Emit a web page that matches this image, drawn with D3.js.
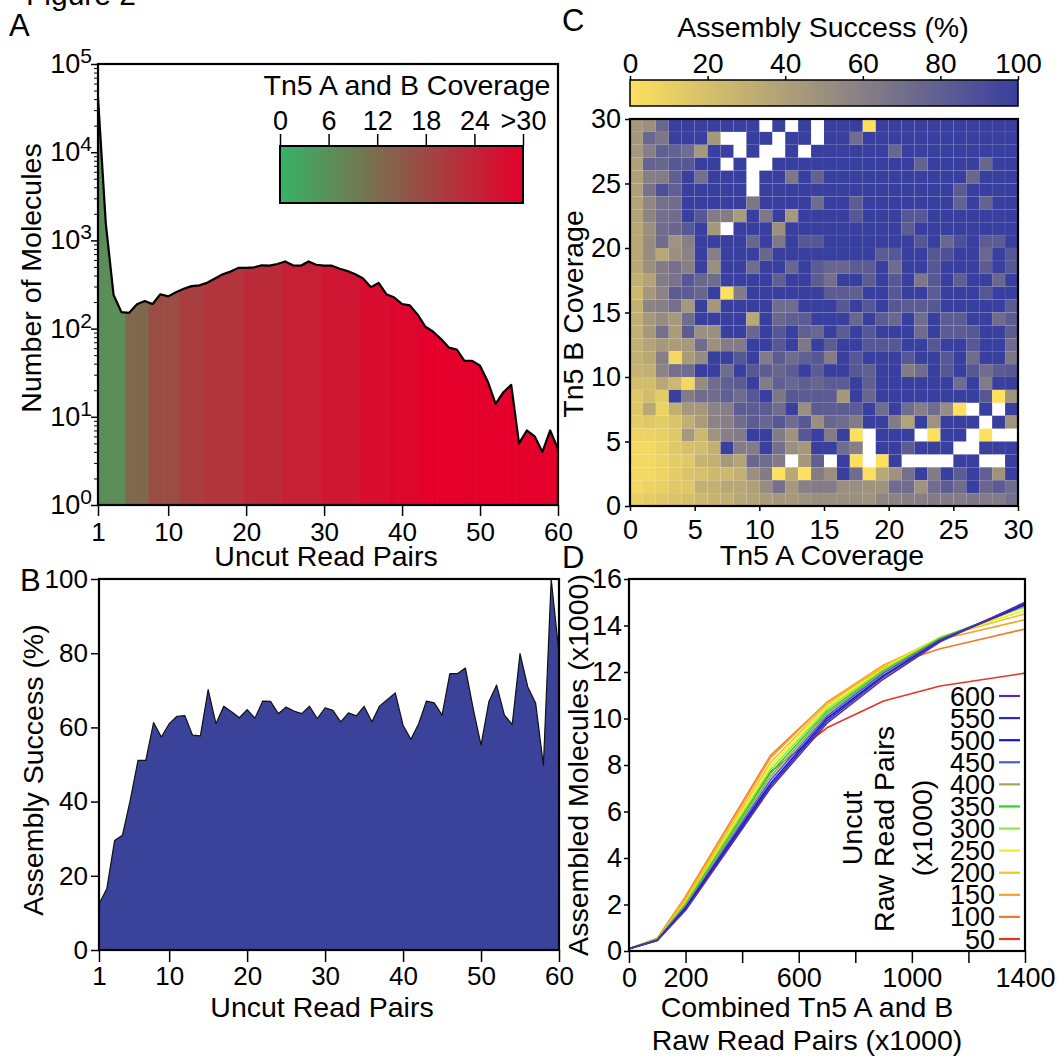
<!DOCTYPE html>
<html>
<head>
<meta charset="utf-8">
<script src="https://cdn.jsdelivr.net/npm/d3@7"></script>
<style>
  body { margin: 0; background: #fff; }
  svg { display: block; font-family: "Liberation Sans", Arial, Helvetica, sans-serif; }
</style>
</head>
<body>
<svg id="fig" width="1060" height="1057"></svg>
<script>
// ---------- data ----------
const uncutPairs = d3.range(1, 61);

// A: number of molecules per uncut read pair count
const moleculeCounts = [42000, 1550, 240, 154, 151, 189, 205, 190, 245, 232,
  258, 283, 303, 309, 331, 370, 414, 443, 488, 488,
  495, 522, 517, 540, 577, 522, 517, 577, 530, 517,
  517, 477, 450, 414, 370, 295, 330, 245, 225, 190,
  183, 144, 105, 92, 76, 61, 58, 43, 43, 38,
  25, 14, 19, 23, 5, 7, 6, 4, 7, 4.3];

// A: mean Tn5 A+B coverage for each uncut count (fill colour)
const coverageA = [6.4, 6.4, 6.4, 6.4, 12.6, 12.6, 12.6, 17.2, 17.2, 17.2,
  17.2, 19.7, 19.7, 19.7, 21.3, 21.3, 21.3, 21.3, 21.3, 23,
  23, 23, 23, 23, 24.6, 24.6, 24.6, 24.6, 24.6, 26.4,
  26.4, 26.4, 26.4, 26.4, 27.9, 27.9, 27.9, 27.9, 29, 29,
  29, 29, 30, 30, 30, 30, 30, 30, 30, 30,
  30, 30, 30, 30, 30, 30, 30, 30, 30, 30];
const coverageTicks = [0, 6, 12, 18, 24, 30];
const coverageTickLabels = ["0", "6", "12", "18", "24", ">30"];

// B: assembly success (%) per uncut count
const successRate = [12.4, 16.5, 29.5, 30.9, 40.3, 51.1, 51.1, 61.3, 57.4, 61,
  63, 63.2, 57.9, 57.7, 70.2, 61, 65.7, 64.2, 62.6, 64.8,
  62.5, 67.1, 67, 63.7, 65.5, 64.4, 63.7, 65.7, 62.4, 65.3,
  64.6, 61.5, 63.9, 63.1, 65.7, 61.5, 65.8, 67.5, 69.3, 60.6,
  56.8, 61, 67.1, 66.6, 63.3, 74.5, 74.5, 76, 65, 55.2,
  66.9, 71.4, 63.3, 60.8, 79.9, 70.9, 66.6, 49.8, 100, 80];

// C: assembly success (%) by Tn5 A coverage (columns 0..29) and Tn5 B coverage
// rows listed from B = 29 (top) down to B = 0 (bottom); null = no molecules
const successGrid = [
  [45,50,75,100,100,100,100,100,100,100,null,100,null,100,null, 100,100,100,0,100,100,100,100,100,100,100,100,100,100,100],
  [45,75,65,100,100,100,45,null,null,100,100,null,100,100,null, 100,100,72,100,100,100,100,100,100,100,100,100,100,100,100],
  [45,60,80,78,72,45,100,100,null,100,null,null,100,null,100, 100,100,100,100,100,75,100,100,100,100,100,100,100,100,100],
  [40,78,75,85,85,100,100,null,100,null,null,100,100,100,100, 100,100,100,100,100,100,100,78,100,100,100,100,75,100,100],
  [40,60,62,80,100,70,100,100,100,null,100,100,65,100,78, 100,100,100,100,100,100,100,100,100,100,100,75,100,100,100],
  [40,68,90,80,100,100,100,100,100,null,100,100,100,100,100, 100,100,100,100,100,100,100,100,100,100,82,100,100,100,100],
  [38,55,70,72,100,100,100,100,100,65,100,100,100,100,72, 100,100,82,100,100,100,100,100,100,100,78,100,78,100,100],
  [38,58,70,72,100,85,62,62,42,100,65,100,45,100,100, 100,100,85,100,100,100,85,85,100,100,100,100,100,100,100],
  [35,50,72,75,85,100,45,null,100,100,100,50,100,100,100, 100,100,100,100,100,100,82,100,100,100,100,100,100,100,100],
  [35,52,72,48,60,100,100,100,100,75,100,65,100,85,85, 100,100,100,100,100,100,100,85,100,75,90,100,82,82,100],
  [35,52,35,50,58,100,60,100,100,100,75,100,100,100,100, 100,100,100,100,82,85,100,100,85,90,100,100,75,100,85],
  [35,50,62,70,60,100,50,100,100,72,100,100,75,100,82, 75,75,82,82,100,72,100,100,85,100,100,100,82,100,85],
  [30,38,62,68,85,75,72,100,100,100,100,80,100,100,82, 70,100,100,82,100,85,100,65,85,100,80,100,100,75,100],
  [25,45,58,82,82,75,100,0,62,100,100,100,100,100,100, 82,82,80,100,100,85,100,100,82,100,100,100,85,100,100],
  [30,58,60,70,45,100,45,100,100,100,100,72,72,100,100, 100,85,100,85,100,85,82,82,85,100,100,100,100,100,82],
  [30,45,52,45,72,100,100,100,100,35,100,75,80,82,100, 100,100,75,100,82,75,100,72,100,82,82,100,100,72,82],
  [30,45,70,42,82,50,50,100,100,75,100,85,100,80,75, 100,82,100,85,100,100,100,72,100,82,82,85,100,100,82],
  [30,38,45,42,45,72,50,62,62,100,100,85,100,65,100, 82,100,100,85,85,85,100,100,85,100,100,85,100,100,72],
  [30,35,60,5,42,52,100,100,85,100,62,82,72,80,85, 62,100,85,100,100,100,85,100,100,85,100,72,100,100,65],
  [28,30,58,70,72,100,100,72,100,85,82,75,82,100,82, 100,100,85,80,100,100,62,72,100,85,100,85,72,82,85],
  [22,22,35,25,5,52,72,80,82,100,62,80,75,80,75, 82,82,100,80,100,100,100,100,100,100,72,100,62,100,100],
  [15,22,12,100,62,72,72,80,72,85,100,65,85,82,82, 82,45,100,75,100,100,100,100,100,100,100,100,85,0,48],
  [15,35,8,30,45,45,58,60,82,82,82,72,100,50,82, 82,82,82,100,72,100,72,60,72,52,0,null,100,null,100],
  [12,15,12,18,30,42,58,60,72,82,75,85,72,85,50, 75,72,62,100,100,62,38,100,48,100,100,100,null,100,48],
  [8,8,10,15,45,25,48,60,62,100,100,62,48,85,100, 62,100,0,null,100,100,100,null,0,100,100,null,0,null,null],
  [5,5,8,15,20,22,30,100,62,62,100,70,50,45,100, 100,72,60,null,100,100,82,100,100,100,null,null,100,100,100],
  [5,5,8,12,15,28,30,45,38,75,72,62,null,45,80, null,100,0,null,0,100,null,null,null,null,100,100,null,null,100],
  [5,5,8,12,18,20,25,25,30,50,62,0,35,0,62, 50,100,72,0,35,48,70,100,62,100,82,100,80,48,100],
  [5,8,10,15,15,30,30,35,35,40,52,70,45,60,62, 62,50,50,48,48,72,72,48,72,82,72,100,75,82,72],
  [10,12,15,18,20,25,28,30,35,38,42,45,45,48,50, 50,50,50,48,55,58,60,60,62,62,62,65,62,62,70]
];
const successTicks = [0, 20, 40, 60, 80, 100];

// D: assembled molecules (x1000) vs combined raw read pairs, per uncut read pair depth
const rawPairs = [0, 100, 200, 500, 700, 900, 1100, 1400];
const uncutDepths = [600, 550, 500, 450, 400, 350, 300, 250, 200, 150, 100, 50];
const depthColors = ["#5c2d9e", "#2e2eae", "#1414ea", "#4c5cc8", "#a8a060", "#22d822",
  "#8ee83a", "#f0ee20", "#f2c420", "#f5a228", "#f57a22", "#e83424"];
const assembled = [
  [0.1, 0.45, 1.75, 7.0, 9.8, 11.7, 13.3, 15.0],
  [0.1, 0.45, 1.8, 7.1, 9.9, 11.8, 13.35, 14.95],
  [0.1, 0.46, 1.85, 7.2, 10.0, 11.85, 13.35, 14.9],
  [0.1, 0.47, 1.9, 7.35, 10.1, 11.95, 13.4, 14.9],
  [0.1, 0.48, 1.95, 7.5, 10.2, 12.0, 13.4, 14.85],
  [0.1, 0.5, 2.0, 7.65, 10.3, 12.05, 13.45, 14.85],
  [0.1, 0.5, 2.05, 7.8, 10.4, 12.1, 13.45, 14.8],
  [0.1, 0.5, 2.1, 7.95, 10.5, 12.15, 13.5, 14.65],
  [0.1, 0.52, 2.2, 8.1, 10.6, 12.25, 13.5, 14.5],
  [0.1, 0.53, 2.3, 8.3, 10.7, 12.3, 13.4, 14.25],
  [0.1, 0.55, 2.35, 8.4, 10.7, 12.2, 13.0, 13.85],
  [0.1, 0.5, 2.2, 7.7, 9.6, 10.75, 11.4, 11.95]
];

// ---------- helpers ----------
const FONT = 26;     // tick labels
const TITLE = 28.5;  // axis titles
const svg = d3.select("#fig");
const defs = svg.append("defs");

function styleAxis(g) {
  g.attr("font-family", null).attr("font-size", FONT);
  g.select(".domain").remove();
  g.selectAll(".tick line").attr("stroke", "#000").attr("stroke-width", 1.5);
  g.selectAll(".tick text").attr("fill", "#000");
}

function text(x, y, str, anchor = "middle", size = TITLE, rotate = 0) {
  return svg.append("text")
    .attr("transform", `translate(${x},${y})` + (rotate ? ` rotate(${rotate})` : ""))
    .attr("text-anchor", anchor)
    .attr("font-size", size)
    .text(str);
}

text(26, 5, "Figure 2", "start", 30);
text(9, 36, "A", "start", 31);
text(20, 591, "B", "start", 31);
text(562, 31, "C", "start", 31);
text(562, 568, "D", "start", 31);

// ---------- Panel A ----------
const A = { left: 98, right: 558, top: 64, bottom: 505 };
const xA = d3.scaleLinear().domain([1, 60]).range([A.left, A.right]);
const yA = d3.scaleLog().domain([1, 1e5]).range([A.bottom, A.top]);
const covColor = d3.scaleLinear().domain([0, 30]).range(["#36b466", "#e4002b"]);

const areaA = d3.area()
  .x((d, i) => xA(uncutPairs[i]))
  .y0(A.bottom)
  .y1(d => yA(d));

defs.append("clipPath").attr("id", "clipA")
  .append("path").attr("d", areaA(moleculeCounts));

svg.append("g").attr("clip-path", "url(#clipA)")
  .selectAll("rect")
  .data(uncutPairs)
  .join("rect")
  .attr("x", d => xA(Math.max(1, d - 0.5)))
  .attr("width", d => xA(Math.min(60, d + 0.5)) - xA(Math.max(1, d - 0.5)) + 0.6)
  .attr("y", A.top)
  .attr("height", A.bottom - A.top)
  .attr("fill", (d, i) => covColor(coverageA[i]));

svg.append("path")
  .attr("d", d3.line().x((d, i) => xA(uncutPairs[i])).y(d => yA(d))(moleculeCounts))
  .attr("fill", "none")
  .attr("stroke", "#000")
  .attr("stroke-width", 2.2)
  .attr("stroke-linejoin", "round");

const minorTicks = [];
for (let k = 0; k < 5; k++) for (let m = 2; m <= 9; m++) minorTicks.push(m * Math.pow(10, k));
svg.append("g").attr("transform", `translate(${A.left},0)`)
  .call(d3.axisLeft(yA).tickValues(minorTicks).tickSize(4).tickFormat(""))
  .call(styleAxis)
  .selectAll(".tick line").attr("stroke-width", 1);
const majorA = [1, 10, 100, 1000, 10000, 100000];
svg.append("g").attr("transform", `translate(${A.left},0)`)
  .call(d3.axisLeft(yA).tickValues(majorA).tickSize(7).tickFormat(""))
  .call(styleAxis);
majorA.forEach((v, k) => {
  const t = svg.append("text")
    .attr("x", A.left - 6).attr("y", yA(v) + 9)
    .attr("text-anchor", "end").attr("font-size", 27);
  t.append("tspan").text("10");
  t.append("tspan").attr("dy", -10).attr("font-size", 21).text(k);
});

svg.append("g").attr("transform", `translate(0,${A.bottom})`)
  .call(d3.axisBottom(xA).tickValues([1, 10, 20, 30, 40, 50, 60]).tickSize(11).tickPadding(7))
  .call(styleAxis);

svg.append("rect")
  .attr("x", A.left).attr("y", A.top)
  .attr("width", A.right - A.left).attr("height", A.bottom - A.top)
  .attr("fill", "none").attr("stroke", "#000").attr("stroke-width", 2.2);

text(41, 278, "Number of Molecules", "middle", TITLE, -90);
text(326, 566, "Uncut Read Pairs");

// coverage legend
const legA = { left: 280, right: 523, top: 146, bottom: 203 };
const xLeg = d3.scaleLinear().domain([0, 30]).range([legA.left, legA.right]);
const gradA = defs.append("linearGradient").attr("id", "gradA");
gradA.selectAll("stop").data(coverageTicks).join("stop")
  .attr("offset", d => (d / 30 * 100) + "%")
  .attr("stop-color", d => covColor(d));
svg.append("rect")
  .attr("x", legA.left).attr("y", legA.top)
  .attr("width", legA.right - legA.left).attr("height", legA.bottom - legA.top)
  .attr("fill", "url(#gradA)").attr("stroke", "#000").attr("stroke-width", 2);
svg.append("g").attr("transform", `translate(0,${legA.top})`)
  .call(d3.axisTop(xLeg).tickValues(coverageTicks).tickSize(12).tickPadding(4)
    .tickFormat((d, i) => coverageTickLabels[i]))
  .call(styleAxis)
  .attr("font-size", 27);
text(407, 95, "Tn5 A and B Coverage");

// ---------- Panel B ----------
const B = { left: 99, right: 559, top: 579, bottom: 950 };
const xB = d3.scaleLinear().domain([1, 60]).range([B.left, B.right]);
const yB = d3.scaleLinear().domain([0, 100]).range([B.bottom, B.top]);

svg.append("path")
  .attr("d", d3.area().x((d, i) => xB(uncutPairs[i])).y0(B.bottom).y1(d => yB(d))(successRate))
  .attr("fill", "#3a4399")
  .attr("stroke", "#111")
  .attr("stroke-width", 1.2)
  .attr("stroke-linejoin", "round");

svg.append("g").attr("transform", `translate(${B.left},0)`)
  .call(d3.axisLeft(yB).tickValues(successTicks).tickSize(8).tickPadding(3))
  .call(styleAxis);
svg.append("g").attr("transform", `translate(0,${B.bottom})`)
  .call(d3.axisBottom(xB).tickValues([1, 10, 20, 30, 40, 50, 60]).tickSize(12).tickPadding(5))
  .call(styleAxis);
svg.append("rect")
  .attr("x", B.left).attr("y", B.top)
  .attr("width", B.right - B.left).attr("height", B.bottom - B.top)
  .attr("fill", "none").attr("stroke", "#000").attr("stroke-width", 2.2);

text(43, 770, "Assembly Success (%)", "middle", TITLE, -90);
text(322, 1017, "Uncut Read Pairs");

// ---------- Panel C ----------
const C = { left: 630, right: 1018, top: 119, bottom: 506 };
const xC = d3.scaleLinear().domain([0, 30]).range([C.left, C.right]);
const yC = d3.scaleLinear().domain([0, 30]).range([C.bottom, C.top]);
const heatColor = d3.scaleLinear().domain([0, 100]).range(["#fde05e", "#393f9f"]);

const cells = successGrid.flatMap((row, r) => row.map((v, a) => ({ a, b: 29 - r, v })))
  .filter(d => d.v !== null);

svg.append("g").selectAll("rect")
  .data(cells)
  .join("rect")
  .attr("x", d => xC(d.a))
  .attr("y", d => yC(d.b + 1))
  .attr("width", d => xC(d.a + 1) - xC(d.a))
  .attr("height", d => yC(d.b) - yC(d.b + 1))
  .attr("fill", d => heatColor(d.v))
  .attr("stroke", "rgba(255,255,255,0.07)")
  .attr("stroke-width", 0.6);

const covTicksC = [0, 5, 10, 15, 20, 25, 30];
svg.append("g").attr("transform", `translate(${C.left},0)`)
  .call(d3.axisLeft(yC).tickValues(covTicksC).tickSize(5).tickPadding(4))
  .call(styleAxis)
  .attr("font-size", 27);
svg.append("g").attr("transform", `translate(0,${C.bottom})`)
  .call(d3.axisBottom(xC).tickValues(covTicksC).tickSize(5).tickPadding(9))
  .call(styleAxis)
  .attr("font-size", 27);
svg.append("rect")
  .attr("x", C.left).attr("y", C.top)
  .attr("width", C.right - C.left).attr("height", C.bottom - C.top)
  .attr("fill", "none").attr("stroke", "#000").attr("stroke-width", 2.2);

text(583, 314, "Tn5 B Coverage", "middle", TITLE, -90);
text(822, 565, "Tn5 A Coverage");

// colour bar
const barC = { top: 80, bottom: 106 };
const xBar = d3.scaleLinear().domain([0, 100]).range([C.left, C.right]);
const gradC = defs.append("linearGradient").attr("id", "gradC");
gradC.selectAll("stop").data(successTicks).join("stop")
  .attr("offset", d => d + "%")
  .attr("stop-color", d => heatColor(d));
svg.append("rect")
  .attr("x", C.left).attr("y", barC.top)
  .attr("width", C.right - C.left).attr("height", barC.bottom - barC.top)
  .attr("fill", "url(#gradC)").attr("stroke", "#000").attr("stroke-width", 1.5);
svg.append("g").attr("transform", `translate(0,${barC.top})`)
  .call(d3.axisTop(xBar).tickValues(successTicks).tickSize(4).tickPadding(3))
  .call(styleAxis)
  .attr("font-size", 28);
text(823, 37, "Assembly Success (%)");

// ---------- Panel D ----------
const D = { left: 629, right: 1025, top: 579, bottom: 951 };
const xD = d3.scaleLinear().domain([0, 1400]).range([D.left, D.right]);
const yD = d3.scaleLinear().domain([0, 16]).range([D.bottom, D.top]);

const lineD = d3.line().x((d, i) => xD(rawPairs[i])).y(d => yD(d));
svg.append("g").selectAll("path")
  .data(assembled.map((s, i) => ({ s, i })).reverse())
  .join("path")
  .attr("d", d => lineD(d.s))
  .attr("fill", "none")
  .attr("stroke", d => depthColors[d.i])
  .attr("stroke-width", 1.6)
  .attr("stroke-linejoin", "round");

svg.append("g").attr("transform", `translate(${D.left},0)`)
  .call(d3.axisLeft(yD).tickValues(d3.range(0, 17, 2)).tickSize(5).tickPadding(2))
  .call(styleAxis)
  .attr("font-size", 27);
const shownD = [0, 200, 600, 1000, 1400];
svg.append("g").attr("transform", `translate(0,${D.bottom})`)
  .call(d3.axisBottom(xD).tickValues(d3.range(0, 1401, 200)).tickSize(12).tickPadding(5)
    .tickFormat(d => shownD.includes(d) ? d : ""))
  .call(styleAxis)
  .attr("font-size", 27);
svg.append("rect")
  .attr("x", D.left).attr("y", D.top)
  .attr("width", D.right - D.left).attr("height", D.bottom - D.top)
  .attr("fill", "none").attr("stroke", "#000").attr("stroke-width", 2.2);

text(588, 765, "Assembled Molecules (x1000)", "middle", TITLE, -90);
text(807, 1017, "Combined Tn5 A and B");
text(807, 1050, "Raw Read Pairs (x1000)");

// legend
const yLeg = d3.scalePoint().domain(uncutDepths).range([696, 939]);
const legD = svg.append("g").selectAll("g")
  .data(uncutDepths)
  .join("g")
  .attr("transform", d => `translate(0,${yLeg(d)})`);
legD.append("text")
  .attr("x", 995).attr("y", 9.5)
  .attr("text-anchor", "end")
  .attr("font-size", 27)
  .text(d => d);
legD.append("line")
  .attr("x1", 999).attr("x2", 1020)
  .attr("stroke", (d, i) => depthColors[i])
  .attr("stroke-width", 2.2);

text(862, 828, "Uncut", "middle", TITLE, -90);
text(894, 829, "Raw Read Pairs", "middle", TITLE, -90);
text(932, 828, "(x1000)", "middle", TITLE, -90);
</script>
</body>
</html>
